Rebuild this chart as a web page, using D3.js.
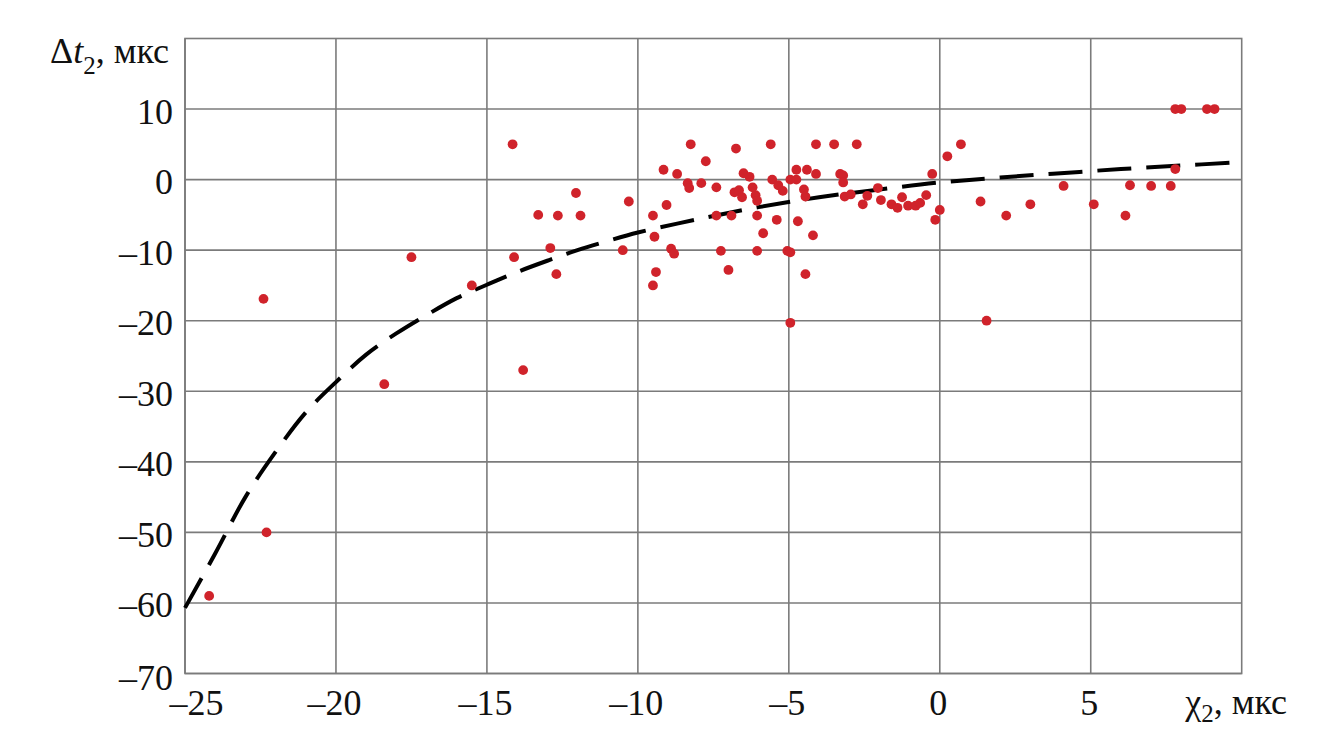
<!DOCTYPE html>
<html>
<head>
<meta charset="utf-8">
<script src="https://cdn.jsdelivr.net/npm/d3@7/dist/d3.min.js"></script>
<style>
  html, body { margin: 0; padding: 0; background: #fff; }
  svg { display: block; }
  svg text { font-family: 'Liberation Serif', 'DejaVu Serif', serif; fill: #111; }
</style>
</head>
<body>
<svg id="chart" width="1338" height="747"></svg>
<script>
// ---- data ----
const pointX = [
  -24.2, -22.4, -22.3, -18.4, -17.5, -15.5, -14.15, -14.1, -13.8, -13.3,
  -12.9, -12.7, -12.65, -12.05, -11.9, -10.5, -10.3, -9.5, -9.45, -9.4,
  -9.5, -9.15, -9.05, -8.9, -8.8, -8.7, -8.35, -8.3, -8.25, -7.9,
  -7.75, -7.4, -7.4, -7.25, -7.0, -6.9, -6.8, -6.75, -6.65, -6.55,
  -6.5, -6.3, -6.2, -6.1, -6.05, -6.05, -6.05, -5.85, -5.6, -5.55,
  -5.4, -5.35, -5.2, -5.05, -4.95, -4.95, -4.95, -4.75, -4.75, -4.7,
  -4.5, -4.45, -4.45, -4.4, -4.2, -4.1, -4.1, -3.5, -3.3, -3.2,
  -3.2, -3.15, -2.95, -2.75, -2.55, -2.4, -2.05, -1.95, -1.6, -1.4,
  -1.25, -1.05, -0.8, -0.65, -0.45, -0.25, -0.15, 0.0, 0.25, 0.7,
  1.35, 1.55, 2.2, 3.0, 4.1, 5.1, 6.15, 6.3, 7.0, 7.65,
  7.8, 7.8, 8.0, 8.85, 9.1
];
const pointY = [
  -59, -16.9, -50, -29, -11, -15, 5, -11, -27, -5,
  -9.7, -13.4, -5.1, -1.9, -5.1, -10, -3.1, -5.1, -8.1, -13.1,
  -15, 1.4, -3.6, -9.8, -10.5, 0.8, -0.5, -1.2, 5, -0.5,
  2.6, -1.1, -5.1, -10.1, -12.8, -5.1, -1.8, 4.4, -1.5, -2.5,
  0.9, 0.4, -1.1, -2.2, -3, -5.1, -10.1, -7.6, 5, 0,
  -5.7, -0.8, -1.6, -10.1, -10.3, -20.3, 0, 0, 1.4, -5.9,
  -1.4, -2.4, -13.4, 1.4, -7.9, 0.8, 5, 5, 0.8, 0.6,
  -0.4, -2.4, -2.1, 5, -3.5, -2.3, -1.2, -2.9, -3.5, -4,
  -2.5, -3.7, -3.7, -3.3, -2.2, 0.8, -5.7, -4.3, 3.3, 5,
  -3.1, -20, -5.1, -3.5, -0.9, -3.5, -5.1, -0.8, -0.9, -0.9,
  1.5, 10, 10, 10, 10
];
// trend curve
const trendX = [-25, -24, -23, -22, -21, -20, -19, -18, -17, -16, -15, -14, -13, -12, -11, -10, -8, -6, -4, -2, 0, 2, 4, 6, 8, 9.7];
const trendY = [-60.7, -53, -45, -38.6, -33, -28.7, -24.8, -21.8, -19.2, -16.8, -14.9, -13.1, -11.5, -10, -8.7, -7.5, -5.6, -3.9, -2.5, -1.4, -0.4, 0.3, 0.9, 1.5, 2.0, 2.4];
const xTicks = [-25, -20, -15, -10, -5, 0, 5];
const yTicks = [10, 0, -10, -20, -30, -40, -50, -60, -70];
const xDomain = [-25, 10];
const yDomain = [-70, 20];

// ---- layout ----
const pLeft = 185, pTop = 38.5, pRight = 1241.7, pBottom = 673.5;
const serif = "'Liberation Serif', 'DejaVu Serif', serif";
const svg = d3.select("#chart");
const x = d3.scaleLinear().domain(xDomain).range([pLeft, pRight]);
const y = d3.scaleLinear().domain(yDomain).range([pBottom, pTop]);
const gridColor = "#7b7b7b";
const fmt = v => (v < 0 ? "\u2013" + Math.abs(v) : String(v));

// grid
const g = svg.append("g");
g.selectAll("line.v").data(xTicks).join("line")
  .attr("class", "v")
  .attr("x1", d => x(d)).attr("x2", d => x(d))
  .attr("y1", pTop).attr("y2", pBottom)
  .attr("stroke", gridColor).attr("stroke-width", 1.6);
g.selectAll("line.h").data(yTicks).join("line")
  .attr("class", "h")
  .attr("x1", pLeft).attr("x2", pRight)
  .attr("y1", d => y(d)).attr("y2", d => y(d))
  .attr("stroke", gridColor).attr("stroke-width", 1.6);
g.append("rect")
  .attr("x", pLeft).attr("y", pTop)
  .attr("width", pRight - pLeft).attr("height", pBottom - pTop)
  .attr("fill", "none").attr("stroke", gridColor).attr("stroke-width", 1.6);

// axes (labels only, drawn via d3 axes)
const yAxis = svg.append("g").attr("transform", `translate(${pLeft},0)`)
  .call(d3.axisLeft(y).tickValues(yTicks).tickFormat(fmt).tickSize(0).tickPadding(12));
yAxis.attr("font-family", serif);
yAxis.select(".domain").remove();
yAxis.selectAll("text")
  .style("font-family", serif)
  .attr("font-size", 36).attr("fill", "#111")
  .attr("dy", null)
  .attr("y", d => (d === -70 ? 15.5 : 14));

const xAxis = svg.append("g").attr("transform", `translate(0,${pBottom})`)
  .call(d3.axisBottom(x).tickValues(xTicks).tickFormat(fmt).tickSize(0).tickPadding(0));
xAxis.attr("font-family", serif);
xAxis.select(".domain").remove();
xAxis.selectAll("text")
  .style("font-family", serif)
  .attr("font-size", 36).attr("fill", "#111")
  .attr("dy", null)
  .attr("y", 41)
  .attr("x", d => (d === -25 ? 11 : -2));

// trend line
const trend = trendX.map((v, i) => [v, trendY[i]]);
svg.append("path")
  .datum(trend)
  .attr("d", d3.line().x(d => x(d[0])).y(d => y(d[1])).curve(d3.curveCatmullRom))
  .attr("fill", "none")
  .attr("stroke", "#000")
  .attr("stroke-width", 4)
  .attr("stroke-dasharray", "34,15");

// points
const pts = pointX.map((v, i) => [v, pointY[i]]);
svg.append("g").selectAll("circle").data(pts).join("circle")
  .attr("cx", d => x(d[0])).attr("cy", d => y(d[1]))
  .attr("r", 4.9)
  .attr("fill", "#d0232b");

// axis titles
const yt = svg.append("text").attr("x", 169).attr("y", 63).attr("text-anchor", "end")
  .style("font-family", serif).attr("font-size", 36);
yt.append("tspan").text("\u0394");
yt.append("tspan").attr("font-style", "italic").text("t");
yt.append("tspan").attr("font-size", 25).attr("dy", 11).text("2");
yt.append("tspan").attr("dy", -11).text(", мкс");

const xt = svg.append("text").attr("x", 1287).attr("y", 714).attr("text-anchor", "end")
  .style("font-family", serif).attr("font-size", 36);
xt.append("tspan").text("\u03C7");
xt.append("tspan").attr("font-size", 25).attr("dy", 8).text("2");
xt.append("tspan").attr("dy", -8).text(", мкс");
</script>
</body>
</html>
